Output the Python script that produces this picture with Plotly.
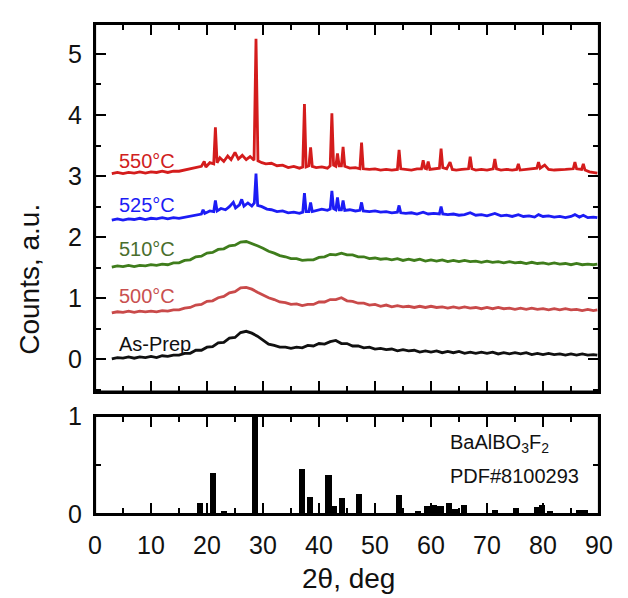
import plotly.graph_objects as go

# ---------------- data ----------------
grid_x = [3, 4, 5, 6, 7, 8, 9, 10, 11, 12, 13, 14, 15, 16, 17, 18, 19, 20, 21, 22,
          23, 24, 25, 26, 27, 28, 29, 30, 31, 32, 33, 34, 35, 36, 37, 38, 39, 40, 41, 42,
          43, 44, 45, 46, 47, 48, 49, 50, 51, 52, 53, 54, 55, 56, 57, 58, 59, 60, 61, 62,
          63, 64, 65, 66, 67, 68, 69, 70, 71, 72, 73, 74, 75, 76, 77, 78, 79, 80, 81, 82,
          83, 84, 85, 86, 87, 88, 89, 89.7]

asprep_y = [0.01, 0.03, 0.02, 0.04, 0.02, 0.04, 0.03, 0.05, 0.03, 0.06, 0.05, 0.07, 0.07, 0.10, 0.10, 0.15, 0.15, 0.20, 0.21, 0.27,
            0.28, 0.35, 0.36, 0.44, 0.46, 0.43, 0.38, 0.32, 0.25, 0.23, 0.20, 0.20, 0.18, 0.20, 0.19, 0.23, 0.22, 0.26, 0.25, 0.29,
            0.31, 0.26, 0.26, 0.22, 0.22, 0.19, 0.20, 0.17, 0.18, 0.16, 0.17, 0.14, 0.16, 0.14, 0.15, 0.12, 0.14, 0.12, 0.14, 0.11,
            0.13, 0.11, 0.13, 0.10, 0.12, 0.10, 0.12, 0.10, 0.12, 0.09, 0.11, 0.09, 0.11, 0.09, 0.11, 0.08, 0.10, 0.08, 0.10, 0.08,
            0.09, 0.07, 0.09, 0.07, 0.09, 0.07, 0.08, 0.07]

t500_y = [0.76, 0.78, 0.77, 0.79, 0.77, 0.79, 0.78, 0.79, 0.78, 0.80, 0.79, 0.81, 0.81, 0.84, 0.85, 0.89, 0.90, 0.95, 0.96, 1.01,
          1.03, 1.09, 1.11, 1.17, 1.18, 1.15, 1.10, 1.05, 1.01, 0.98, 0.94, 0.93, 0.90, 0.91, 0.88, 0.90, 0.90, 0.94, 0.94, 0.98,
          0.98, 1.01, 0.96, 0.95, 0.92, 0.92, 0.89, 0.90, 0.87, 0.89, 0.86, 0.88, 0.86, 0.87, 0.85, 0.87, 0.85, 0.87, 0.85, 0.86,
          0.84, 0.86, 0.84, 0.86, 0.84, 0.85, 0.83, 0.85, 0.83, 0.85, 0.83, 0.84, 0.82, 0.84, 0.82, 0.84, 0.82, 0.83, 0.81, 0.83,
          0.81, 0.83, 0.81, 0.82, 0.80, 0.82, 0.80, 0.81]

t510_y = [1.51, 1.53, 1.52, 1.54, 1.52, 1.54, 1.53, 1.55, 1.54, 1.56, 1.55, 1.58, 1.58, 1.62, 1.63, 1.68, 1.69, 1.74, 1.75, 1.80,
          1.81, 1.86, 1.87, 1.92, 1.93, 1.90, 1.86, 1.82, 1.77, 1.74, 1.70, 1.68, 1.65, 1.65, 1.62, 1.63, 1.63, 1.67, 1.68, 1.72,
          1.71, 1.74, 1.71, 1.71, 1.68, 1.68, 1.65, 1.66, 1.64, 1.65, 1.63, 1.65, 1.62, 1.64, 1.62, 1.64, 1.61, 1.63, 1.61, 1.63,
          1.60, 1.62, 1.60, 1.62, 1.60, 1.61, 1.59, 1.61, 1.59, 1.60, 1.58, 1.60, 1.58, 1.59, 1.57, 1.59, 1.57, 1.58, 1.56, 1.58,
          1.56, 1.57, 1.55, 1.57, 1.55, 1.56, 1.55, 1.56]

t525_x = [3, 4, 5, 6, 7, 8, 9, 10, 11, 12, 13, 14, 15, 16, 17, 18, 19, 19.3, 19.6, 20.5,
          21.2, 21.5, 21.8, 22.5, 23.3, 24, 24.7, 25.1, 25.8, 26.2, 26.6, 27.3, 28, 28.45, 28.75, 29.05, 29.8, 30.7, 31.5, 32.5,
          33.5, 34.5, 35.5, 36.5, 37.1, 37.4, 37.7, 38.2, 38.5, 38.8, 39.5, 40.5, 41.5, 42.0, 42.3, 42.6, 43.0, 43.3, 43.6, 44.0,
          44.3, 44.6, 45.5, 46.5, 47.3, 47.6, 47.9, 49, 50, 51, 52, 53, 54, 54.3, 54.6, 55.5, 56.5, 57.5, 58.6, 59.5,
          60.5, 61.5, 61.8, 62.1, 63, 64, 65, 66, 67, 68, 69, 70, 71.4, 72.5, 73.5, 74.5, 75.6, 76.5, 77.5, 78.5,
          79.2, 80, 81, 82, 83, 84, 85, 85.7, 86.5, 87.2, 88, 89, 89.7]
t525_y = [2.28, 2.30, 2.28, 2.30, 2.29, 2.31, 2.29, 2.31, 2.30, 2.32, 2.30, 2.32, 2.31, 2.33, 2.34, 2.37, 2.38, 2.45, 2.39, 2.43,
          2.42, 2.60, 2.43, 2.47, 2.45, 2.50, 2.57, 2.48, 2.53, 2.62, 2.51, 2.56, 2.51, 2.56, 3.04, 2.52, 2.50, 2.46, 2.45, 2.42,
          2.43, 2.40, 2.41, 2.39, 2.41, 2.72, 2.42, 2.42, 2.57, 2.42, 2.44, 2.46, 2.44, 2.46, 2.76, 2.47, 2.45, 2.65, 2.45, 2.45,
          2.60, 2.44, 2.45, 2.43, 2.44, 2.57, 2.43, 2.42, 2.43, 2.41, 2.42, 2.40, 2.41, 2.52, 2.40, 2.39, 2.40, 2.38, 2.41, 2.38,
          2.39, 2.38, 2.50, 2.38, 2.37, 2.38, 2.36, 2.37, 2.40, 2.36, 2.37, 2.35, 2.39, 2.35, 2.36, 2.34, 2.37, 2.34, 2.35, 2.33,
          2.37, 2.34, 2.35, 2.33, 2.34, 2.32, 2.34, 2.37, 2.33, 2.36, 2.32, 2.33, 2.32]

t550_x = [3, 4, 5, 6, 7, 8, 9, 10, 11, 12, 13, 14, 15, 16, 17, 18, 19, 19.5, 19.8, 20.5,
          21.2, 21.5, 21.8, 22.3, 23, 23.7, 24.3, 25, 25.6, 26.3, 27, 27.7, 28.4, 28.75, 29.1, 29.8, 30.5, 31.5, 32.5, 33.5,
          34.5, 35.5, 36.5, 37.1, 37.4, 37.7, 38.2, 38.5, 38.8, 39.5, 40.5, 41.5, 42.0, 42.3, 42.6, 43.0, 43.3, 43.6, 44.0, 44.3,
          44.6, 45.5, 46.5, 47.3, 47.6, 47.9, 49, 50, 51, 52, 53, 54.0, 54.3, 54.6, 55.5, 56.5, 57.5, 58.3, 58.6, 58.9,
          59.2, 59.5, 59.8, 60.5, 61.5, 61.8, 62.1, 62.8, 63.4, 63.8, 64.5, 65.5, 66.7, 67.0, 67.3, 68, 69, 70, 71.1, 71.4,
          71.7, 72.5, 73.5, 74.5, 75.3, 75.6, 75.9, 77, 78, 78.9, 79.2, 79.5, 80.3, 81, 82, 83, 84, 85.4, 85.7, 86.0,
          86.9, 87.2, 87.5, 88.3, 89, 89.7]
t550_y = [3.04, 3.06, 3.04, 3.06, 3.05, 3.07, 3.05, 3.07, 3.06, 3.08, 3.06, 3.08, 3.08, 3.10, 3.11, 3.14, 3.16, 3.24, 3.15, 3.22,
          3.20, 3.80, 3.22, 3.30, 3.24, 3.33, 3.27, 3.39, 3.28, 3.34, 3.27, 3.32, 3.26, 5.25, 3.25, 3.22, 3.20, 3.21, 3.17, 3.18,
          3.14, 3.16, 3.13, 3.15, 4.18, 3.15, 3.17, 3.47, 3.16, 3.14, 3.15, 3.13, 3.17, 4.03, 3.18, 3.16, 3.37, 3.17, 3.17, 3.48,
          3.16, 3.13, 3.14, 3.12, 3.55, 3.12, 3.11, 3.12, 3.10, 3.11, 3.10, 3.11, 3.43, 3.12, 3.11, 3.10, 3.12, 3.12, 3.26, 3.13,
          3.12, 3.24, 3.11, 3.12, 3.13, 3.45, 3.14, 3.12, 3.23, 3.11, 3.10, 3.11, 3.12, 3.32, 3.12, 3.10, 3.11, 3.10, 3.12, 3.28,
          3.12, 3.10, 3.11, 3.10, 3.11, 3.20, 3.10, 3.11, 3.12, 3.13, 3.23, 3.13, 3.18, 3.11, 3.10, 3.10, 3.11, 3.12, 3.23, 3.12,
          3.11, 3.20, 3.10, 3.07, 3.06, 3.05]

series_names = ["As-Prep", "500°C", "510°C", "525°C", "550°C"]
series_colors = ["#111111", "#c94a4a", "#3f7d1c", "#1c1cf5", "#d41c1c"]
label_colors = ["#111111", "#c95050", "#4a6e2c", "#1c1cf5", "#d02020"]
label_x = [3.9, 3.9, 3.9, 3.9, 3.9]
label_y = [0.25, 1.03, 1.80, 2.53, 3.24]

ref_pos = [18.8, 21.0, 23.1, 28.6, 36.9, 38.4, 41.7, 42.7, 44.1, 47.1, 54.3, 57.7, 59.3,
           60.5, 61.7, 63.2, 64.3, 65.9, 71.4, 75.2, 78.9, 79.8, 81.3, 86.5, 87.5]
ref_int = [0.11, 0.42, 0.03, 1.00, 0.46, 0.18, 0.40, 0.08, 0.17, 0.21, 0.20, 0.03, 0.08,
           0.09, 0.08, 0.11, 0.05, 0.09, 0.04, 0.06, 0.07, 0.09, 0.03, 0.04, 0.04]

x_ticks = [0, 10, 20, 30, 40, 50, 60, 70, 80, 90]
# ----------------------------------------------------------------

FONT = "Liberation Sans, Arial, sans-serif"
TOP_DOMAIN = [0.25, 1]
BOT_DOMAIN = [0, 0.2004]

series_x = [grid_x, grid_x, grid_x, t525_x, t550_x]
series_y = [asprep_y, t500_y, t510_y, t525_y, t550_y]

fig = go.Figure()
for name, xs, ys, col in zip(series_names, series_x, series_y, series_colors):
    fig.add_trace(go.Scatter(x=xs, y=ys, mode="lines", name=name,
                             line=dict(color=col, width=2.8), xaxis="x", yaxis="y",
                             showlegend=False))

fig.add_trace(go.Bar(x=ref_pos, y=ref_int, width=1.1, marker=dict(color="black", line=dict(width=0)),
                     xaxis="x2", yaxis="y2", showlegend=False))

for name, lx, ly, col in zip(series_names, label_x, label_y, label_colors):
    fig.add_annotation(x=lx, y=ly, xref="x", yref="y", text=name, showarrow=False,
                       xanchor="left", yanchor="middle", font=dict(family=FONT, size=20, color=col))

fig.add_annotation(x=0.70, y=0.143, xref="paper", yref="paper",
                   text="BaAlBO<sub>3</sub>F<sub>2</sub>", showarrow=False, xanchor="left", yanchor="middle",
                   font=dict(family=FONT, size=20, color="#111"))
fig.add_annotation(x=0.70, y=0.077, xref="paper", yref="paper",
                   text="PDF#8100293", showarrow=False, xanchor="left", yanchor="middle",
                   font=dict(family=FONT, size=20, color="#111"))

fig.add_annotation(x=-0.129, y=0.48, xref="paper", yref="paper", text="Counts, a.u.",
                   textangle=-90, showarrow=False, xanchor="center", yanchor="middle",
                   font=dict(family=FONT, size=28, color="#111"))
fig.add_annotation(x=0.502, y=-0.131, xref="paper", yref="paper", text="2θ, deg",
                   showarrow=False, xanchor="center", yanchor="middle",
                   font=dict(family=FONT, size=28, color="#111"))

# frames around both panels
for dom in (TOP_DOMAIN, BOT_DOMAIN):
    fig.add_shape(type="rect", xref="paper", yref="paper", x0=0, x1=1, y0=dom[0], y1=dom[1],
                  line=dict(color="black", width=2.2), fillcolor="rgba(0,0,0,0)", layer="above")

axis_common = dict(showline=True, linecolor="black", linewidth=2, mirror="ticks",
                   ticks="inside", ticklen=11, tickwidth=2, tickcolor="black",
                   showgrid=False, zeroline=False,
                   tickfont=dict(family=FONT, size=25, color="#111"))

fig.update_layout(
    width=612, height=588,
    margin=dict(l=87, r=21, t=2, b=82),
    paper_bgcolor="white", plot_bgcolor="white",
    xaxis=dict(domain=[0, 1], anchor="y", range=[0, 90], tickvals=x_ticks, showticklabels=False,
               minor=dict(ticks="inside", ticklen=6, tickwidth=2, dtick=5, tick0=0, tickcolor="black"),
               **axis_common),
    yaxis=dict(domain=TOP_DOMAIN, anchor="x", range=[-0.525, 5.49], dtick=1, tick0=0,
               ticklabelstandoff=6,
               minor=dict(ticks="inside", ticklen=6, tickwidth=2, dtick=0.5, tick0=0, tickcolor="black"),
               **axis_common),
    xaxis2=dict(domain=[0, 1], anchor="y2", range=[0, 90], tickvals=x_ticks, ticklabelstandoff=8,
                minor=dict(ticks="inside", ticklen=6, tickwidth=2, dtick=5, tick0=0, tickcolor="black"),
                **axis_common),
    yaxis2=dict(domain=BOT_DOMAIN, anchor="x2", range=[0, 1], tickvals=[0, 1],
                ticklabelstandoff=6,
                minor=dict(ticks="inside", ticklen=6, tickwidth=2, tickvals=[0.5], tickcolor="black"),
                **axis_common),
    bargap=0,
)

fig.write_html("out.html")
